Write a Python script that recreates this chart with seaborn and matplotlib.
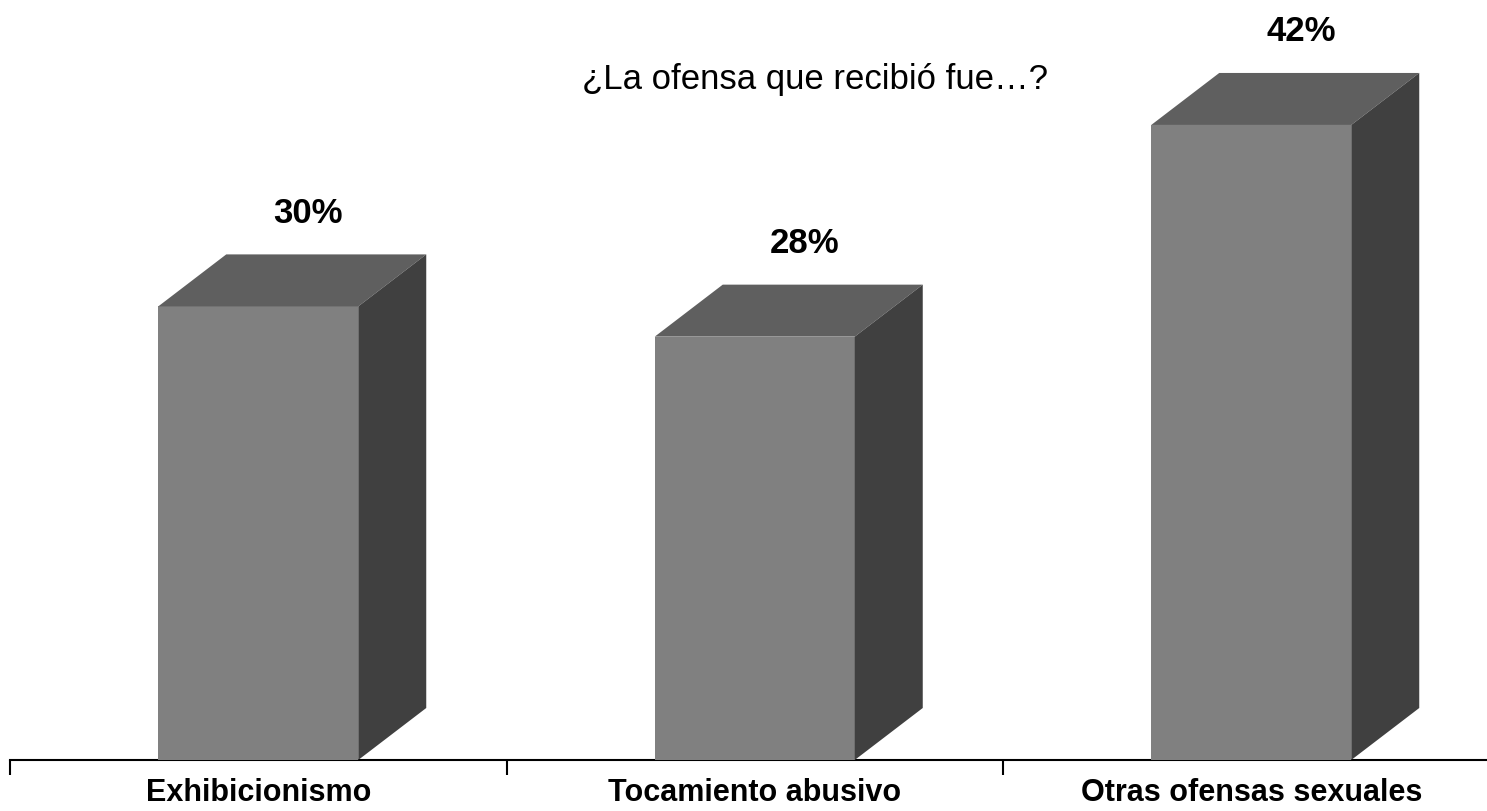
import matplotlib
matplotlib.use("Agg")
import matplotlib.pyplot as plt
from matplotlib.patches import Polygon
import seaborn as sns
import pandas as pd

categories = ["Exhibicionismo", "Tocamiento abusivo", "Otras ofensas sexuales"]
values = [30, 28, 42]
value_labels = ["30%", "28%", "42%"]
title = "¿La ofensa que recibió fue…?"

sns.set_theme(style="white")
plt.rcParams['font.family'] = ['Liberation Sans', 'DejaVu Sans']

W, H = 1487, 811
fig = plt.figure(figsize=(W / 100, H / 100), dpi=100)
ax = fig.add_axes([10 / W, 51 / H, 1489.5 / W, 760 / H])

df = pd.DataFrame({"cat": categories, "val": values})
bar_w = 200 / 496.5
sns.barplot(data=df, x="cat", y="val", color="#808080", saturation=1,
            width=bar_w, ax=ax, linewidth=0, zorder=3)

ax.set_xlim(-0.5, 2.5)
ax.set_ylim(0, 760 / 15.12)

dx = 68 / 496.5
dy = 52 / 15.12
for i, v in enumerate(values):
    x0 = i - bar_w / 2
    x1 = i + bar_w / 2
    top = Polygon([(x0, v), (x1, v), (x1 + dx, v + dy), (x0 + dx, v + dy)],
                  closed=True, facecolor="#5f5f5f", edgecolor="none", zorder=3)
    side = Polygon([(x1, 0), (x1 + dx, dy), (x1 + dx, v + dy), (x1, v)],
                   closed=True, facecolor="#404040", edgecolor="none", zorder=3)
    ax.add_patch(top)
    ax.add_patch(side)
    ax.text(i + 0.1, v + 93 / 15.12, value_labels[i], ha="center", va="center",
            fontsize=25, fontweight="bold", color="black", zorder=4)

# axes styling
for s in ["top", "right", "left"]:
    ax.spines[s].set_visible(False)
ax.spines["bottom"].set_color("black")
ax.spines["bottom"].set_linewidth(1.5)
ax.set_yticks([])
ax.set_xlabel("")
ax.set_ylabel("")
ax.set_xticks([0, 1, 2])
ax.set_xticklabels(categories, fontsize=22, fontweight="bold", color="black")
ax.tick_params(axis="x", which="major", bottom=True, length=0, pad=13)
ax.set_xticks([-0.5, 0.5, 1.5, 2.5], minor=True)
ax.tick_params(axis="x", which="minor", bottom=True, length=11, width=1.5,
               color="black", direction="out")

fig.text(815 / W, 1 - 80 / H, title, ha="center", va="center", fontsize=25, color="black")

fig.savefig("out.png", dpi=100, facecolor="white")
